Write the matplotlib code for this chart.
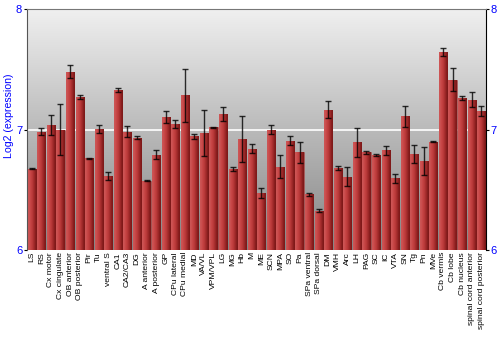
import numpy as np
import matplotlib
matplotlib.use("Agg")
from matplotlib import pyplot as plt
from matplotlib import font_manager

regions = ["LS", "RS", "Cx motor", "Cx cingulate", "OB anterior", "OB posterior",
           "Pir", "Tu", "ventral S", "CA1", "CA2/CA3", "DG", "A anterior",
           "A posterior", "GP", "CPu lateral", "CPu medial", "MD", "VA/VL",
           "VPM/VPL", "LG", "MG", "Hb", "M", "ME", "SCN", "MPA", "SO", "Pa",
           "SPa ventral", "SPa dorsal", "DM", "VMH", "Arc", "LH", "PAG", "SC",
           "IC", "VTA", "SN", "Tg", "Pn", "MVe", "Cb vermis", "Cb lobe",
           "Cb nucleus", "spinal cord anterior", "spinal cord posterior"]
expr = [6.675, 6.983, 7.04, 7.0, 7.483, 7.272,
        6.761, 7.008, 6.617, 7.333, 6.983, 6.933, 6.575,
        6.794, 7.106, 7.05, 7.286, 6.944, 6.972,
        7.019, 7.131, 6.675, 6.925, 6.842, 6.475, 7.0, 6.692, 6.908, 6.811,
        6.464, 6.325, 7.167, 6.681, 6.611, 6.897, 6.811, 6.789,
        6.828, 6.597, 7.111, 6.797, 6.739, 6.9, 7.644, 7.417,
        7.264, 7.25, 7.153]
err = [0.005, 0.03, 0.08, 0.21, 0.057, 0.018,
       0.005, 0.032, 0.033, 0.017, 0.047, 0.014, 0.004,
       0.035, 0.048, 0.033, 0.222, 0.024, 0.19,
       0.006, 0.057, 0.018, 0.19, 0.039, 0.039, 0.036, 0.094, 0.036, 0.086,
       0.014, 0.0125, 0.07, 0.015, 0.076, 0.12, 0.01, 0.008,
       0.037, 0.037, 0.086, 0.076, 0.117, 0.006, 0.033, 0.096,
       0.014, 0.061, 0.042]

names = {f.name for f in font_manager.fontManager.ttflist}
if "Liberation Sans Narrow" in names:
    xfont, xsize = "Liberation Sans Narrow", 7.2
else:
    xfont, xsize = "Liberation Sans", 6.1
plt.rcParams["font.family"] = ["Liberation Sans", "DejaVu Sans"]

blue = "#0000ff"
fig = plt.figure(figsize=(5, 3.5), dpi=100)
ax = fig.add_axes([0.054, 0.2857, 0.918, 0.6873])

x = np.arange(len(regions))
ax.set_xlim(-0.5, len(regions) - 0.5)
ax.set_ylim(6, 8)

# background gradient
grad = np.linspace(0.94, 0.52, 256).reshape(-1, 1)
ax.imshow(np.dstack([grad, grad, grad]), extent=[-0.5, len(regions) - 0.5, 6, 8],
          aspect="auto", origin="upper", zorder=0)
ax.axhline(7, color="white", lw=1.2, zorder=1)

bars = ax.bar(x, np.array(expr) - 6, bottom=6, width=0.85, color="#b03030",
              edgecolor="#a05050", lw=0.4, zorder=2)
# horizontal shading on each bar
shade = np.array([[0.80, 0.33, 0.33], [0.78, 0.27, 0.27], [0.72, 0.22, 0.22],
                  [0.62, 0.16, 0.16], [0.50, 0.10, 0.10]])[None, :, :]
for b in bars:
    im = ax.imshow(shade, extent=[b.get_x(), b.get_x() + b.get_width(), 6, b.get_height() + 6],
                   aspect="auto", interpolation="bilinear", zorder=2.5)
    im.set_clip_path(b)
ax.errorbar(x, expr, yerr=err, fmt="none", ecolor="black", elinewidth=1,
            capsize=2.2, capthick=1, alpha=0.8, zorder=3)

ax.set_xticks(x)
ax.set_xticklabels(regions, rotation=90, fontsize=xsize,
                   family=[xfont, "DejaVu Sans"])
ax.tick_params(axis="x", length=0, pad=1.5)
ax.set_yticks([6, 7, 8])
ax.tick_params(axis="y", colors="black", labelcolor=blue, labelsize=8,
               direction="out", length=2.5, width=0.8, pad=1,
               right=True, labelright=True)
fig.text(0.018, 0.669, "Log2 (expression)", color=blue, fontsize=7.6,
         rotation=90, ha="center", va="center")
ax.spines["left"].set_color("#555555")
ax.spines["top"].set_color("#777777")
ax.spines["bottom"].set_visible(False)
ax.spines["right"].set_color("black")

fig.savefig("out.png", dpi=100)
